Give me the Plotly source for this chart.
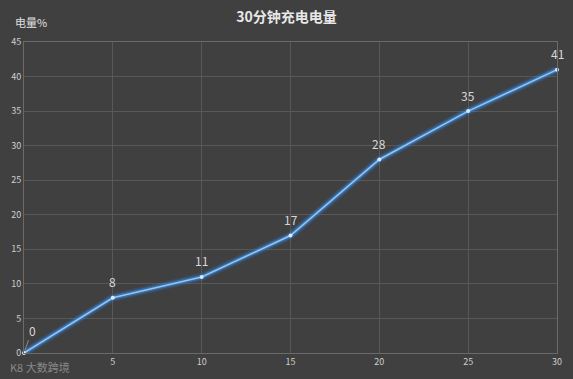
import plotly.graph_objects as go

minutes = [0, 5, 10, 15, 20, 25, 30]
charge = [0, 8, 11, 17, 28, 35, 41]
labels = ["0", "8", "11", "17", "28", "35", "41"]
x_ticks = [0, 5, 10, 15, 20, 25, 30]
x_ticktext = ["", "5", "10", "15", "20", "25", "30"]
y_ticks = [0, 5, 10, 15, 20, 25, 30, 35, 40, 45]

font = "Noto Sans CJK SC"
fig = go.Figure()
# glow
fig.add_trace(go.Scatter(x=minutes, y=charge, mode="lines",
                         line=dict(color="rgba(40,120,215,0.25)", width=8),
                         hoverinfo="skip", showlegend=False, cliponaxis=False))
fig.add_trace(go.Scatter(x=minutes, y=charge, mode="lines",
                         line=dict(color="rgba(60,140,230,0.5)", width=4.5),
                         hoverinfo="skip", showlegend=False, cliponaxis=False))
fig.add_trace(go.Scatter(x=minutes, y=charge, mode="lines+markers",
                         line=dict(color="#92c6f2", width=1.6),
                         marker=dict(size=4, color="#d6eaff"),
                         showlegend=False, cliponaxis=False))
# data labels
for i, (xv, yv, lab) in enumerate(zip(minutes, charge, labels)):
    if i == 0:
        fig.add_annotation(x=xv, y=yv, text=lab, showarrow=True,
                           ax=8, ay=-23, arrowhead=0, arrowwidth=0.8, arrowcolor="#9a9a9a",
                           standoff=3, font=dict(family=font, size=12, color="#d8d8d8"))
    else:
        fig.add_annotation(x=xv, y=yv, text=lab, showarrow=False, yshift=16,
                           xanchor="center", yanchor="middle",
                           font=dict(family=font, size=12, color="#d8d8d8"))

fig.update_layout(
    width=573, height=379,
    margin=dict(l=23, r=11, t=42, b=25),
    paper_bgcolor="#404040", plot_bgcolor="#404040",
    title=dict(text="<b>30分钟充电电量</b>", x=0.5, xanchor="center", y=0.955, yanchor="middle",
               font=dict(family=font, size=14, color="#e8e8e8")),
    xaxis=dict(range=[0, 30], tickvals=x_ticks, ticktext=x_ticktext, showgrid=True,
               gridcolor="#585858", gridwidth=1,
               zeroline=False, showline=True, linecolor="#6a6a6a", mirror=True,
               tickfont=dict(family=font, size=9, color="#cfcfcf"), ticks="", ticklen=0),
    yaxis=dict(range=[0, 45], tickvals=y_ticks, showgrid=True, gridcolor="#585858", gridwidth=1,
               zeroline=False, showline=True, linecolor="#6a6a6a", mirror=True,
               tickfont=dict(family=font, size=9, color="#cfcfcf"), ticks="", ticklen=0),
)
fig.add_annotation(text="电量%", xref="paper", yref="paper", x=-0.021, y=1.065,
                   xanchor="left", yanchor="middle", showarrow=False,
                   font=dict(family=font, size=11, color="#e0e0e0"))
fig.add_annotation(text="K8 大数跨境", xref="paper", yref="paper", x=-0.03, y=-0.045,
                   xanchor="left", yanchor="middle", showarrow=False,
                   font=dict(family=font, size=11, color="rgba(200,200,200,0.55)"))
fig.write_html("out.html")
